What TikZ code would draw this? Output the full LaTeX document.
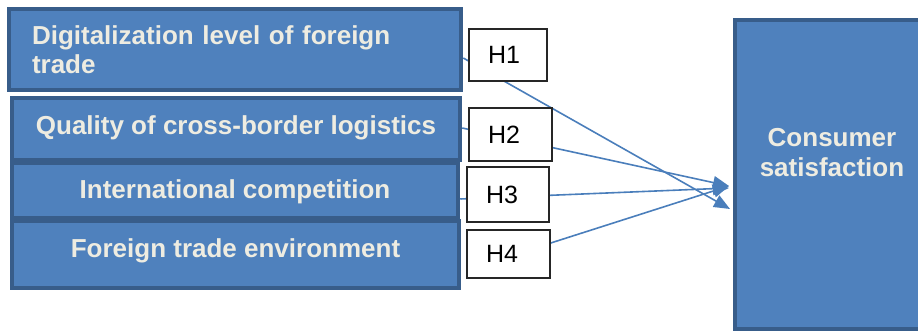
\documentclass[tikz,border=0pt]{standalone}
\usepackage{fontspec}
\setmainfont{Liberation Sans}
\usetikzlibrary{arrows.meta}
\definecolor{boxfill}{HTML}{4F81BD}
\definecolor{boxedge}{HTML}{385D8A}
\definecolor{boxtext}{HTML}{EEECE1}
\definecolor{linkblue}{HTML}{4A7EBB}
\pgfdeclarelayer{back}
\pgfsetlayers{back,main}
\tikzset{
  factor/.style={draw=boxedge, line width=4.5pt, fill=boxfill, text=boxtext,
    font=\bfseries\fontsize{26}{29}\selectfont, inner sep=0pt, align=center},
  hyp/.style={draw=black!85, line width=1.5pt, fill=white,
    font=\fontsize{25}{30}\selectfont, inner xsep=19pt, inner ysep=0pt, align=left},
  link/.style={draw=linkblue, line width=1.6pt, -{Triangle[length=16pt,width=13pt]}},
}
\begin{document}
\begin{tikzpicture}[x=1pt,y=-1pt]
\useasboundingbox (0,0) rectangle (918,331);

% dependent variable
\node[factor, minimum width=194pt, minimum height=309pt,
  label={[text=boxtext, font=\bfseries\fontsize{26}{30}\selectfont, align=center, yshift=22pt]center:Consumer\\satisfaction}]
  (cs) at (832,174.5) {};

% independent variables
\node[factor, minimum width=452pt, minimum height=81pt, inner xsep=23pt,
  text width=406pt, align=left] (b1) at (235,49.5)
  {Digitalization level of foreign\\trade};
\node[factor, minimum width=448pt, minimum height=62pt,
  text height=19pt, text depth=7pt] (b2) at (236,129)
  {Quality of cross-border logistics};
\node[factor, minimum width=446pt, minimum height=55pt,
  text height=19pt, text depth=2pt] (b3) at (235,190.5)
  {International competition};
\node[factor, minimum width=447pt, minimum height=67pt,
  text height=19pt, text depth=14pt] (b4) at (235.5,254.5)
  {Foreign trade environment};

% hypotheses
\node[hyp, minimum width=78pt, minimum height=52pt, text width=40pt] (h1) at (508,55) {H1};
\node[hyp, minimum width=83pt, minimum height=53pt, text width=45pt] (h2) at (510.5,134.5) {H2};
\node[hyp, minimum width=82pt, minimum height=55pt, text width=44pt] (h3) at (508,194.5) {H3};
\node[hyp, minimum width=83pt, minimum height=48pt, text width=45pt] (h4) at (508.5,254) {H4};

% arrow tips in front of the dependent variable
\coordinate (t1) at (730,209);
\coordinate (t2) at (729,186);
\coordinate (t3) at (729,188);
\coordinate (t4) at (729,186);

\begin{pgfonlayer}{back}
  \draw[link] ([yshift=-8.5pt]b1.east) -- (t1);
  \draw[link] ([yshift=1pt]b2.east) -- (t2);
  \draw[link] ([yshift=-8.5pt]b3.east) -- (t3);
  \draw[link] ([yshift=11pt]h4.east) -- (t4);
\end{pgfonlayer}
\end{tikzpicture}
\end{document}
